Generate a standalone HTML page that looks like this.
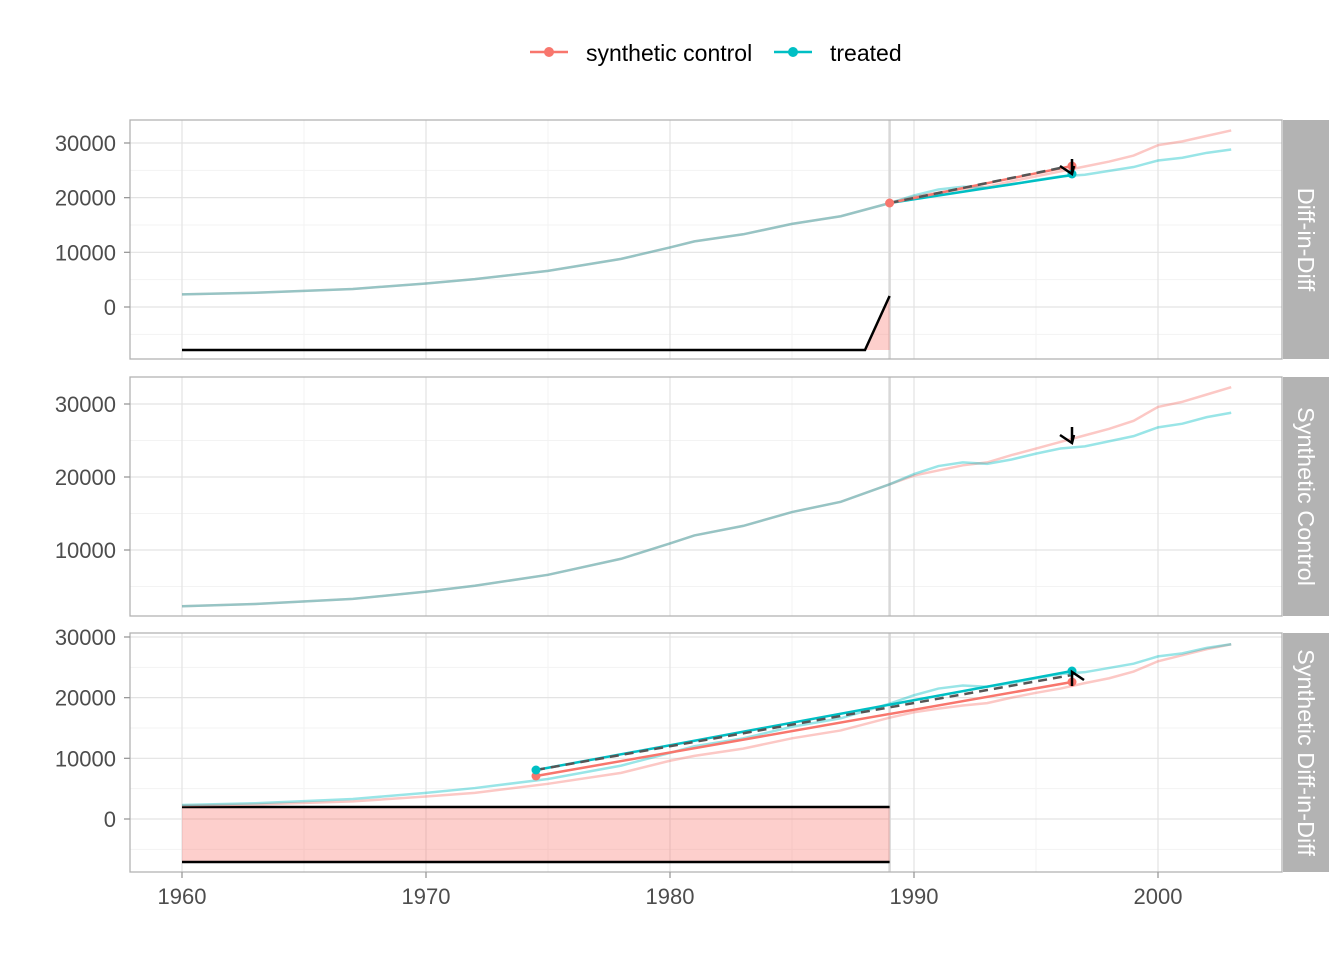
<!DOCTYPE html><html><head><meta charset="utf-8"><style>body{margin:0;background:#fff}svg{display:block}</style></head><body>
<svg id="s" width="1344" height="960" xmlns="http://www.w3.org/2000/svg" font-family="Liberation Sans, sans-serif"></svg>
<script>
const s=document.getElementById('s');let h='';
const X=y=>182+(y-1960)*24.4;
const yrs=[1960,1963,1967,1970,1972,1975,1978,1980,1981,1983,1985,1987,1989,1990,1991,1992,1993,1994,1995,1996,1997,1998,1999,2000,2001,2002,2003];
const tr=[2.3,2.6,3.3,4.3,5.1,6.6,8.8,10.9,12.0,13.3,15.2,16.6,19.0,20.4,21.5,22.0,21.8,22.4,23.2,23.9,24.2,24.9,25.6,26.8,27.3,28.2,28.8];
const sc=[2.3,2.6,3.3,4.3,5.1,6.6,8.8,10.9,12.0,13.3,15.2,16.6,19.0,20.2,20.9,21.6,22.0,23.0,23.9,24.8,25.7,26.6,27.7,29.6,30.3,31.3,32.3];
const sd=[2.2,2.4,2.9,3.7,4.3,5.8,7.6,9.6,10.4,11.6,13.3,14.6,16.7,17.6,18.2,18.7,19.1,20.0,20.8,21.5,22.4,23.2,24.3,26.0,27.0,28.0,28.8];
const P=[{t:120,b:359,Y:v=>307-v*5.467,maj:[0,10,20,30],min:[-5,5,15,25],lab:'Diff-in-Diff'},
{t:377,b:616,Y:v=>623-v*7.3,maj:[10,20,30],min:[5,15,25],lab:'Synthetic Control'},
{t:633,b:872,Y:v=>819-v*6.067,maj:[0,10,20,30],min:[-5,5,15,25],lab:'Synthetic Diff-in-Diff'}];
function pl(xs,vs,Y,c,w,o,d){return `<polyline fill="none" stroke="${c}" stroke-width="${w}" stroke-opacity="${o}" ${d?'stroke-dasharray="'+d+'"':''} points="${xs.map((x,i)=>X(x)+','+Y(vs[i])).join(' ')}"/>`}
const R='#f8766d',T='#00bfc4';
P.forEach((p,i)=>{
 h+=`<defs><clipPath id="c${i}"><rect x="130" y="${p.t}" width="1152" height="${p.b-p.t}"/></clipPath></defs><g clip-path="url(#c${i})">`;
 p.min.forEach(v=>h+=`<line x1="130" x2="1282" y1="${p.Y(v)}" y2="${p.Y(v)}" stroke="#f3f3f3" stroke-width="1"/>`);
 [1965,1975,1985,1995].forEach(y=>h+=`<line x1="${X(y)}" x2="${X(y)}" y1="${p.t}" y2="${p.b}" stroke="#f3f3f3"/>`);
 p.maj.forEach(v=>h+=`<line x1="130" x2="1282" y1="${p.Y(v)}" y2="${p.Y(v)}" stroke="#e3e3e3" stroke-width="1.2"/>`);
 [1960,1970,1980,1990,2000].forEach(y=>h+=`<line x1="${X(y)}" x2="${X(y)}" y1="${p.t}" y2="${p.b}" stroke="#e3e3e3" stroke-width="1.2"/>`);
 h+=`<line x1="889.6" x2="889.6" y1="${p.t}" y2="${p.b}" stroke="#d8d8d8" stroke-width="2.5"/>`;
 if(i==0){
  h+=`<polygon points="865,350 889.6,296 889.6,350" fill="${R}" fill-opacity="0.35"/><polyline points="182,350 865,350 889.6,296" fill="none" stroke="#000" stroke-width="2.5"/>`;
  h+=pl(yrs,sc,p.Y,R,2.5,0.4)+pl(yrs,tr,p.Y,T,2.5,0.4);
  h+=`<line x1="889.6" y1="203" x2="1072" y2="175" stroke="${T}" stroke-width="2.5"/><line x1="889.6" y1="203" x2="1072" y2="166" stroke="${R}" stroke-width="2.5"/><line x1="889.6" y1="203" x2="1065" y2="167" stroke="#555" stroke-width="2.5" stroke-dasharray="9,6"/>`;
  h+=`<circle cx="889.6" cy="203" r="4.5" fill="${R}"/><circle cx="1072" cy="166" r="4.5" fill="${R}"/><circle cx="1072" cy="174" r="4.5" fill="${T}"/><path d="M1072 159V174M1060 166L1072 174L1074 166" fill="none" stroke="#000" stroke-width="2.5"/>`;
 }else if(i==1){
  h+=pl(yrs,sc,p.Y,R,2.5,0.4)+pl(yrs,tr,p.Y,T,2.5,0.4);
  h+=`<path d="M1072 427V443M1060 435L1072 443L1074 435" fill="none" stroke="#000" stroke-width="2.5"/>`;
 }else{
  h+=`<rect x="182" y="807" width="707.6" height="55" fill="${R}" fill-opacity="0.35"/><line x1="182" x2="889.6" y1="807" y2="807" stroke="#000" stroke-width="2.5"/><line x1="182" x2="889.6" y1="862" y2="862" stroke="#000" stroke-width="2.5"/>`;
  h+=pl(yrs,sd,p.Y,R,2.5,0.4)+pl(yrs,tr,p.Y,T,2.5,0.4);
  h+=`<line x1="536" y1="776" x2="1072" y2="682" stroke="${R}" stroke-width="2.5"/><line x1="536" y1="770" x2="1072" y2="671" stroke="${T}" stroke-width="2.5"/><line x1="536" y1="770" x2="1072" y2="675" stroke="#555" stroke-width="2.5" stroke-dasharray="9,6"/>`;
  h+=`<circle cx="536" cy="776" r="4.5" fill="${R}"/><circle cx="536" cy="770" r="4.5" fill="${T}"/><circle cx="1072" cy="682" r="4.5" fill="${R}"/><circle cx="1072" cy="671" r="4.5" fill="${T}"/><path d="M1072 686V672L1084 680" fill="none" stroke="#000" stroke-width="2.5"/>`;
 }
 h+=`</g><rect x="130" y="${p.t}" width="1152" height="${p.b-p.t}" fill="none" stroke="#b3b3b3" stroke-width="1.3"/>`;
 p.maj.forEach(v=>{h+=`<line x1="124" x2="130" y1="${p.Y(v)}" y2="${p.Y(v)}" stroke="#999" stroke-width="1.3"/><text x="116" y="${p.Y(v)+8}" text-anchor="end" font-size="22" fill="#4d4d4d">${v*1000}</text>`});
 h+=`<rect x="1283" y="${p.t}" width="46" height="${p.b-p.t}" fill="#b3b3b3"/><text transform="translate(1298,${(p.t+p.b)/2}) rotate(90)" text-anchor="middle" font-size="23.5" fill="#fff">${p.lab}</text>`;
});
[1960,1970,1980,1990,2000].forEach(y=>h+=`<line x1="${X(y)}" x2="${X(y)}" y1="872" y2="878" stroke="#999" stroke-width="1.3"/><text x="${X(y)}" y="904" text-anchor="middle" font-size="22" fill="#4d4d4d">${y}</text>`);
h+=`<line x1="530" x2="568" y1="52" y2="52" stroke="${R}" stroke-width="2.5"/><circle cx="549" cy="52" r="5" fill="${R}"/><text x="586" y="61" font-size="23" fill="#000">synthetic control</text>`;
h+=`<line x1="774" x2="812" y1="52" y2="52" stroke="${T}" stroke-width="2.5"/><circle cx="793" cy="52" r="5" fill="${T}"/><text x="830" y="61" font-size="23" fill="#000">treated</text>`;
s.innerHTML=h;
</script></body></html>
